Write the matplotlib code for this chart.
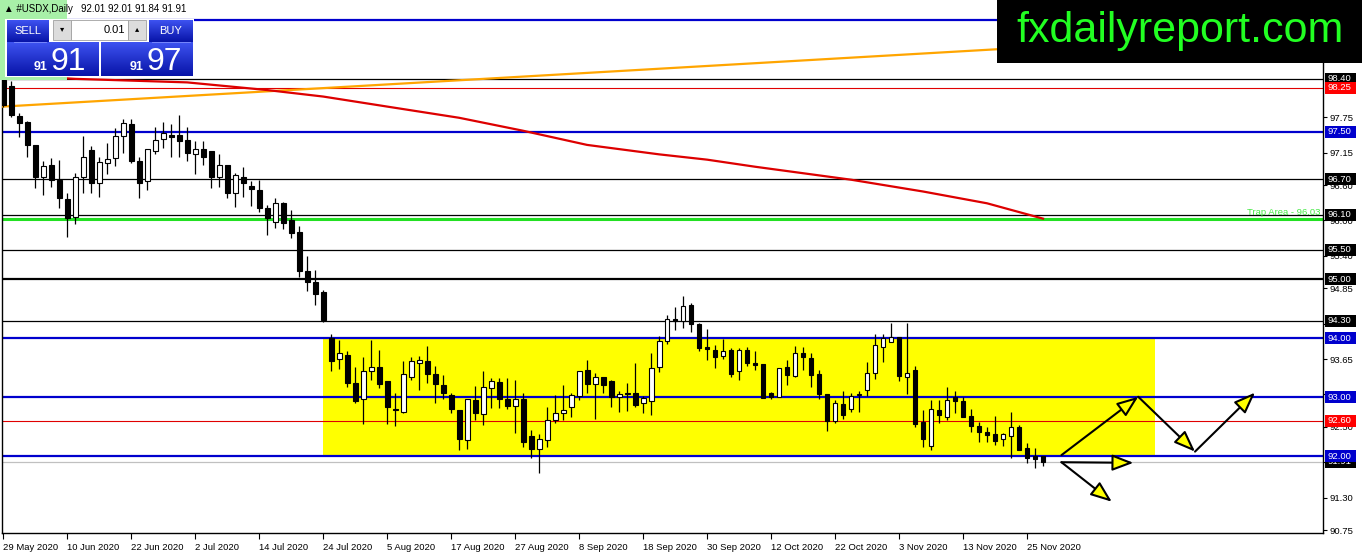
import matplotlib
matplotlib.use("Agg")
import matplotlib.pyplot as plt
import matplotlib.transforms as mtransforms
import numpy as np
from matplotlib.patches import Rectangle

plt.rcParams["font.family"] = ["Liberation Sans", "DejaVu Sans"]

# daily candles, 29 May 2020 .. 27 Nov 2020 (one bar per weekday)
opens = [98.38, 98.28, 97.77, 97.66, 97.28, 96.73, 96.94, 96.69, 96.36, 96.05,
         96.74, 97.20, 96.63, 96.97, 97.05, 97.43, 97.64, 97.01, 96.66, 97.18,
         97.38, 97.45, 97.45, 97.36, 97.13, 97.21, 97.17, 96.73, 96.94, 96.46,
         96.74, 96.58, 96.51, 96.21, 95.98, 96.29, 96.01, 95.80, 95.14, 94.95,
         94.79, 94.00, 93.65, 93.72, 93.24, 92.97, 93.44, 93.52, 93.27, 92.81,
         92.76, 93.34, 93.58, 93.62, 93.40, 93.21, 93.04, 92.79, 92.27, 92.95,
         92.72, 93.16, 93.26, 92.98, 92.85, 92.98, 92.34, 92.13, 92.28, 92.62,
         92.74, 92.83, 93.02, 93.47, 93.23, 93.34, 93.27, 93.01, 93.08, 93.07,
         92.90, 92.93, 93.51, 93.95, 94.33, 94.30, 94.57, 94.24, 93.85, 93.80,
         93.70, 93.81, 93.45, 93.80, 93.59, 93.57, 93.08, 93.01, 93.51, 93.36,
         93.75, 93.66, 93.40, 93.05, 92.60, 92.88, 92.80, 93.04, 93.12, 93.42,
         93.85, 93.94, 94.02, 93.34, 93.46, 92.59, 92.17, 92.79, 92.67, 93.00,
         92.94, 92.68, 92.51, 92.42, 92.38, 92.29, 92.35, 92.50, 92.14, 92.00,
         92.01]
highs = [98.47, 98.37, 97.82, 97.68, 97.28, 97.00, 97.05, 97.03, 96.46, 96.80,
         97.43, 97.27, 97.08, 97.32, 97.56, 97.72, 97.72, 97.08, 97.21, 97.59,
         97.66, 97.64, 97.79, 97.59, 97.34, 97.34, 97.17, 97.13, 96.94, 96.81,
         96.91, 96.66, 96.69, 96.26, 96.38, 96.32, 96.17, 95.91, 95.40, 95.16,
         94.82, 94.08, 93.97, 93.78, 93.52, 93.69, 93.98, 93.81, 93.27, 93.07,
         93.61, 93.69, 93.70, 93.87, 93.53, 93.38, 93.08, 92.79, 92.98, 93.19,
         93.45, 93.33, 93.33, 93.33, 93.30, 93.07, 92.44, 92.38, 92.84, 93.04,
         93.21, 93.07, 93.45, 93.63, 93.42, 93.34, 93.30, 93.11, 93.24, 93.58,
         93.03, 93.76, 94.04, 94.40, 94.54, 94.71, 94.60, 94.26, 94.16, 93.89,
         93.99, 93.83, 93.83, 93.86, 93.78, 93.57, 93.09, 93.49, 93.63, 93.87,
         93.86, 93.75, 93.46, 93.05, 92.95, 93.11, 93.07, 93.11, 93.60, 94.07,
         94.07, 94.26, 94.02, 94.26, 93.53, 92.79, 92.95, 92.95, 93.18, 93.11,
         93.00, 92.81, 92.58, 92.50, 92.68, 92.39, 92.76, 92.53, 92.23, 92.14,
         92.01]
lows = [97.92, 97.76, 97.42, 97.08, 96.55, 96.43, 96.57, 96.21, 95.72, 95.94,
        96.46, 96.47, 96.40, 96.79, 96.93, 97.14, 96.97, 96.38, 96.52, 97.12,
        97.22, 97.08, 97.08, 97.01, 96.79, 96.94, 96.55, 96.57, 96.38, 96.23,
        96.40, 96.25, 96.15, 95.76, 95.87, 95.85, 95.71, 95.04, 94.81, 94.57,
        94.28, 93.45, 93.48, 93.17, 92.91, 92.55, 93.29, 93.16, 92.55, 92.51,
        92.74, 93.29, 93.12, 93.24, 92.90, 92.98, 92.74, 92.11, 92.12, 92.62,
        92.53, 92.82, 92.82, 92.80, 92.39, 92.16, 91.97, 91.71, 92.16, 92.57,
        92.62, 92.67, 92.96, 93.07, 92.64, 93.07, 92.83, 92.76, 92.77, 92.83,
        92.73, 92.70, 93.43, 93.91, 94.14, 94.17, 94.11, 93.78, 93.64, 93.49,
        93.65, 93.34, 93.29, 93.53, 93.46, 92.99, 92.98, 93.01, 93.21, 93.34,
        93.47, 93.18, 92.97, 92.43, 92.57, 92.63, 92.76, 92.76, 93.02, 93.31,
        93.60, 93.94, 93.27, 93.06, 92.49, 92.16, 92.10, 92.56, 92.62, 92.74,
        92.67, 92.42, 92.25, 92.25, 92.19, 92.17, 91.98, 92.10, 91.89, 91.81,
        91.84]
closes = [97.95, 97.79, 97.65, 97.28, 96.73, 96.92, 96.69, 96.38, 96.04, 96.74,
          97.08, 96.63, 96.99, 97.04, 97.43, 97.65, 97.01, 96.64, 97.21, 97.37,
          97.48, 97.42, 97.35, 97.14, 97.21, 97.08, 96.74, 96.94, 96.46, 96.77,
          96.63, 96.53, 96.21, 96.04, 96.29, 95.96, 95.78, 95.15, 94.95, 94.76,
          94.31, 93.62, 93.75, 93.25, 92.93, 93.44, 93.51, 93.23, 92.83, 92.78,
          93.40, 93.61, 93.63, 93.40, 93.23, 93.07, 92.80, 92.29, 92.98, 92.73,
          93.17, 93.28, 92.98, 92.85, 92.98, 92.25, 92.13, 92.29, 92.62, 92.73,
          92.79, 93.04, 93.45, 93.23, 93.35, 93.21, 93.01, 93.06, 93.05, 92.87,
          92.99, 93.49, 93.95, 94.32, 94.29, 94.55, 94.24, 93.83, 93.82, 93.68,
          93.79, 93.40, 93.80, 93.59, 93.55, 92.99, 93.00, 93.49, 93.38, 93.76,
          93.68, 93.38, 93.06, 92.60, 92.90, 92.70, 93.03, 93.05, 93.41, 93.89,
          94.00, 94.03, 93.37, 93.41, 92.54, 92.29, 92.80, 92.70, 92.96, 92.93,
          92.67, 92.52, 92.42, 92.37, 92.26, 92.38, 92.49, 92.11, 91.98, 91.96,
          91.91]

date_labels = ["29 May 2020", "10 Jun 2020", "22 Jun 2020", "2 Jul 2020",
               "14 Jul 2020", "24 Jul 2020", "5 Aug 2020", "17 Aug 2020",
               "27 Aug 2020", "8 Sep 2020", "18 Sep 2020", "30 Sep 2020",
               "12 Oct 2020", "22 Oct 2020", "3 Nov 2020", "13 Nov 2020",
               "25 Nov 2020"]

price_ticks = [90.75, 91.30, 91.90, 92.50, 93.05, 93.65, 94.25, 94.85,
               95.40, 96.00, 96.60, 97.15, 97.75]

# moving average (red) and rising trend line (orange)
ma_idx = [0, 9, 23, 33, 40, 48, 57, 65, 73, 82, 88, 94, 106, 115, 123, 130]
ma_val = [98.47, 98.40, 98.34, 98.21, 98.10, 97.93, 97.74, 97.52, 97.28, 97.12,
          97.03, 96.91, 96.69, 96.49, 96.29, 96.03]
trend_idx = [0, 124]
trend_val = [97.93, 98.90]

top_level = 99.40
blue_levels = [97.50, 94.00, 93.00, 92.00]
black_levels = [98.40, 96.70, 96.10, 95.50, 94.30]
bold_level = 95.00
red_levels = [98.25, 92.60]
trap_level = 96.03
bid = 91.91

box_idx = [40, 144]
box_price = [92.00, 94.03]

# projected paths: (start idx, start price, end idx, end price)
arrows = [(132.3, 92.02, 141.9, 93.01),
          (141.9, 93.01, 149.0, 92.08),
          (149.0, 92.08, 156.5, 93.08),
          (132.3, 91.90, 141.3, 91.89),
          (132.3, 91.90, 138.6, 91.23)]

BLUE = "#0000cd"
RED = "#e00000"

fig = plt.figure(figsize=(13.62, 5.54), dpi=100)
ax = fig.add_axes([2 / 1362, 21 / 554, 1321 / 1362, 532 / 554])
ax.set_xlim(-0.15, 165)
ax.set_ylim(90.70, 99.72)

# zone
ax.add_patch(Rectangle((box_idx[0], box_price[0]), box_idx[1] - box_idx[0],
                       box_price[1] - box_price[0], facecolor="#ffff00",
                       edgecolor="none", zorder=1))

# horizontal levels
for lv in [top_level] + blue_levels:
    ax.axhline(lv, color=BLUE, lw=1.6, zorder=2)
for lv in black_levels:
    ax.axhline(lv, color="black", lw=0.9, zorder=2)
ax.axhline(bold_level, color="black", lw=1.6, zorder=2)
for lv in red_levels:
    ax.axhline(lv, color=RED, lw=0.8, zorder=2)
ax.axhline(trap_level, color="#22e022", lw=2.2, zorder=2)
ax.axhline(bid, color="#c0c0c0", lw=0.9, zorder=2)
ax.text(164.7, trap_level + 0.03, "Trap Area - 96.03", color="#44e844",
        fontsize=6.8, ha="right", va="bottom", zorder=2)

# trend line (ray) and MA
slope = (trend_val[1] - trend_val[0]) / (trend_idx[1] - trend_idx[0])
tx = np.array([trend_idx[0] - 1, 170])
ax.plot(tx, trend_val[0] + slope * (tx - trend_idx[0]), color="#ffa500",
        lw=1.6, zorder=3)
ax.plot(ma_idx, ma_val, color="#dd0000", lw=1.6, zorder=3)

# candles
o = np.array(opens)
h = np.array(highs)
l = np.array(lows)
c = np.array(closes)
x = np.arange(len(o))
ax.vlines(x, l, h, color="black", lw=0.9, zorder=4)
bull = c >= o
ax.bar(x[bull], (c - o)[bull], bottom=o[bull], width=0.6, facecolor="white",
       edgecolor="black", lw=0.8, zorder=5)
ax.bar(x[~bull], (o - c)[~bull], bottom=c[~bull], width=0.6, facecolor="black",
       edgecolor="black", lw=0.8, zorder=5)

# arrows
for x0, y0, x1, y1 in arrows:
    ax.annotate("", xy=(x1, y1), xytext=(x0, y0),
                arrowprops=dict(arrowstyle="-|>,head_length=1.3,head_width=0.5",
                                mutation_scale=10, fc="#ffff00", ec="black",
                                lw=1.5, shrinkA=0, shrinkB=0),
                zorder=6)

# axes styling
ax.spines["top"].set_visible(False)
for side in ("left", "bottom", "right"):
    ax.spines[side].set_linewidth(1.0)
    ax.spines[side].set_color("black")

ax.set_xticks(np.arange(len(date_labels)) * 8)
ax.set_xticklabels(date_labels, ha="left", fontsize=6.8)
offset = mtransforms.ScaledTranslation(2 / 72, 0, fig.dpi_scale_trans)
for lab in ax.get_xticklabels():
    lab.set_transform(lab.get_transform() + offset)
ax.tick_params(axis="x", length=4, width=0.8, pad=3)

ax.yaxis.tick_right()
ax.set_yticks(price_ticks)
ax.set_yticklabels([f"{v:.2f}" for v in price_ticks], fontsize=6.8)
ax.tick_params(axis="y", length=3, width=0.8, pad=2)

# price tags on the scale
blend = mtransforms.blended_transform_factory(ax.transAxes, ax.transData)
px_x = 1 / 1321          # one pixel in axes fraction
px_y = (99.72 - 90.70) / 532   # one pixel in price
tags = ([(v, "black") for v in black_levels] + [(bold_level, "black"), (bid, "black")]
        + [(v, "#ff0000") for v in red_levels] + [(v, BLUE) for v in blue_levels])
for k, (v, col) in enumerate(tags):
    z = 10 + k * 0.01
    ax.add_patch(Rectangle((1 + 2 * px_x, v - 6 * px_y), 31 * px_x, 12 * px_y,
                           transform=blend, facecolor=col, edgecolor="none",
                           clip_on=False, zorder=z))
    ax.text(1 + 4 * px_x, v, f"{v:.2f}", transform=blend, color="white",
            fontsize=6.8, ha="left", va="center", clip_on=False, zorder=z + 0.005)

# overlay: trade panel and watermark box (pixel coordinates)
ov = fig.add_axes([0, 0, 1, 1], zorder=20)
ov.set_axis_off()


def grad_box(x0, x1, y0, y1, top="#3d52f0", bottom="#0814a8"):
    t = np.array(matplotlib.colors.to_rgb(top))
    b = np.array(matplotlib.colors.to_rgb(bottom))
    g = np.linspace(0, 1, 32)[:, None, None]
    img = t + (b - t) * g
    ov.imshow(img, extent=(x0, x1, y1, y0), origin="upper", aspect="auto",
              zorder=2)


ov.add_patch(Rectangle((0, 0), 67, 80, facecolor="#a8f0a8", edgecolor="none", zorder=1))
ov.add_patch(Rectangle((5, 19), 189, 58, facecolor="white", edgecolor="none", zorder=1))
grad_box(7, 49, 20, 42)
grad_box(149, 193, 20, 42)
grad_box(7, 99, 42, 76)
grad_box(101, 193, 42, 76)
ov.plot([14, 46], [41.5, 41.5], color="#8090ff", lw=0.6, zorder=3)
ov.plot([152, 190], [41.5, 41.5], color="#8090ff", lw=0.6, zorder=3)
ov.add_patch(Rectangle((53, 20), 18, 20, facecolor="#dcdcdc", edgecolor="#a0a0a0", lw=0.6, zorder=3))
ov.add_patch(Rectangle((71, 20), 57, 20, facecolor="white", edgecolor="#a0a0a0", lw=0.6, zorder=3))
ov.add_patch(Rectangle((128, 20), 18, 20, facecolor="#dcdcdc", edgecolor="#a0a0a0", lw=0.6, zorder=3))
ov.text(62, 30, "\u25be", fontsize=6, ha="center", va="center", zorder=4)
ov.text(137, 30, "\u25b4", fontsize=6, ha="center", va="center", zorder=4)
ov.text(125, 30, "0.01", fontsize=8, ha="right", va="center", zorder=4)
ov.text(28, 31, "SELL", fontsize=8, color="white", ha="center", va="center", zorder=4)
ov.text(171, 31, "BUY", fontsize=8, color="white", ha="center", va="center", zorder=4)
ov.text(48, 70, "91", fontsize=9, color="white", ha="right", va="baseline",
        fontweight="bold", zorder=4)
ov.text(50, 70, "91", fontsize=23, color="white", ha="left", va="baseline", zorder=4)
ov.text(143, 70, "91", fontsize=9, color="white", ha="right", va="baseline",
        fontweight="bold", zorder=4)
ov.text(146, 70, "97", fontsize=23, color="white", ha="left", va="baseline", zorder=4)
ov.text(4, 9, "\u25b2 #USDX,Daily", fontsize=7, ha="left", va="center", zorder=4)
ov.text(81, 9, "92.01 92.01 91.84 91.91", fontsize=7, ha="left", va="center", zorder=4)

ov.add_patch(Rectangle((997, 0), 365, 63, facecolor="black", edgecolor="none", zorder=5))
ov.text(1180, 31, "fxdailyreport.com", fontsize=31, color="#22ff22",
        ha="center", va="center", zorder=6)

ov.set_xlim(0, 1362)
ov.set_ylim(554, 0)

fig.savefig("out.png", dpi=100)
